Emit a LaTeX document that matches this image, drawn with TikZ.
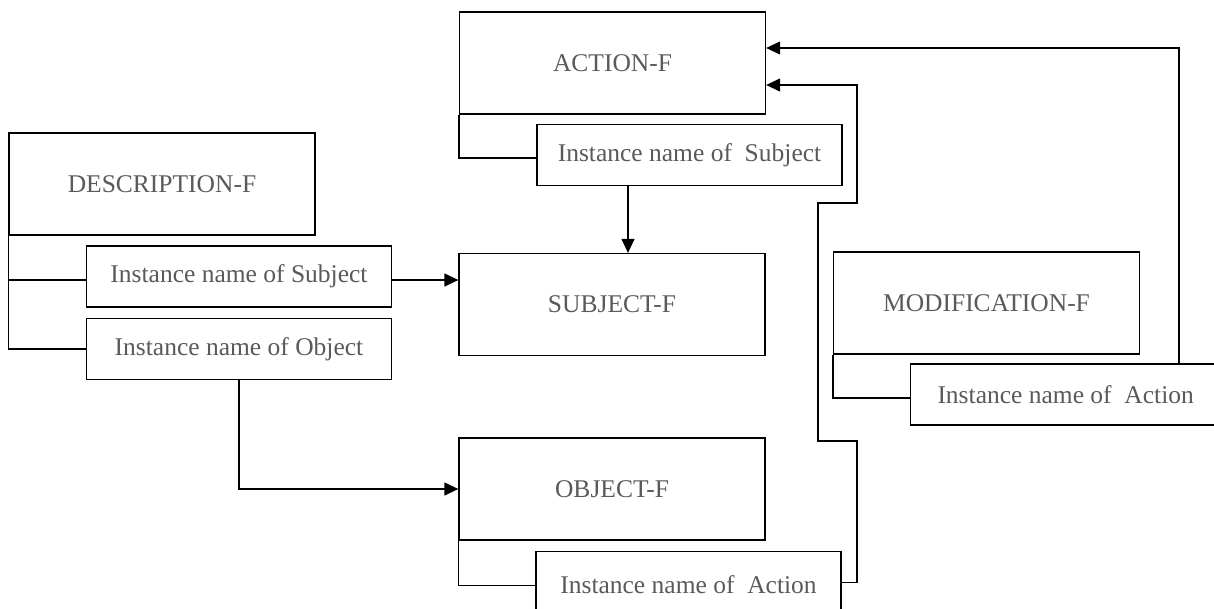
\documentclass[tikz,border=0pt]{standalone}
\usepackage{fontspec}
\setmainfont{Liberation Serif}
\usetikzlibrary{arrows.meta}
\definecolor{txt}{RGB}{90,90,90}
\tikzset{
  box/.style={draw, line width=1.3pt, fill=white, text=txt, inner sep=0pt,
    font=\fontsize{25.5}{30}\selectfont, anchor=center},
  bigbox/.style={box, minimum width=306pt, minimum height=102pt},
  subbox/.style={box, minimum width=305pt, minimum height=61pt},
  ln/.style={line width=1.3pt},
  arr/.style={ln, -{Triangle[length=14pt,width=13pt]}}
}
\begin{document}
\begin{tikzpicture}[x=1pt,y=-1pt]
\useasboundingbox (0,0) rectangle (1214,608);
\clip (0,0) rectangle (1214,608);
\fill[white] (0,0) rectangle (1214,608);
\node[bigbox] (act) at (612.5,63) {ACTION-F};
\node[subbox] (actS) at (689.5,155) {Instance name of~ Subject};
\node[bigbox] (desc) at (162,184) {DESCRIPTION-F};
\node[subbox] (descS) at (239,276.5) {Instance name of Subject};
\node[subbox] (descO) at (239,349) {Instance name of Object};
\node[bigbox] (subj) at (612,304.5) {SUBJECT-F};
\node[bigbox] (obj) at (612,489) {OBJECT-F};
\node[subbox, minimum height=0pt, text height=42pt, text depth=33pt, anchor=north] (objS) at (688.5,551) {Instance name of~ Action};
\node[bigbox] (mod) at (986.5,303) {MODIFICATION-F};
\node[subbox, minimum width=330pt, anchor=west] (modS) at (910,394.5) {Instance name of~ Action\hspace*{20pt}};
% frames
\draw[ln] (act.south west) |- ([yshift=-3pt]actS.west);
\draw[ln] (desc.south west) |- (descO.west);
\draw[ln] (desc.south west |- descS.west) ++(0,3.5) -- ([yshift=-3.5pt]descS.west);
\draw[ln] (obj.south west) |- ([yshift=3.5pt]objS.west);
\draw[ln] (mod.south west) |- ([yshift=-3.5pt]modS.west);
% connectors
\draw[arr] ([yshift=-3.5pt]descS.east) -- ([yshift=-3.5pt]descS.east -| subj.west);
\draw[arr] ([xshift=-61.5pt]actS.south) -- ([xshift=-61.5pt]actS.south |- subj.north);
\draw[arr] (descO.south) |- (obj.west);
\coordinate (r1) at (857,441);
\coordinate (r2) at (818,203);
\coordinate (r3) at (857,85);
\draw[arr] ([yshift=6.5pt]objS.east) -| (r1) -| (r2) -| (r3) -- ([yshift=-22pt]act.east);
\coordinate (mr) at (1179,48);
\draw[arr] (mr |- modS.north) -- (mr) -- ([yshift=15pt]act.east);
\end{tikzpicture}
\end{document}
